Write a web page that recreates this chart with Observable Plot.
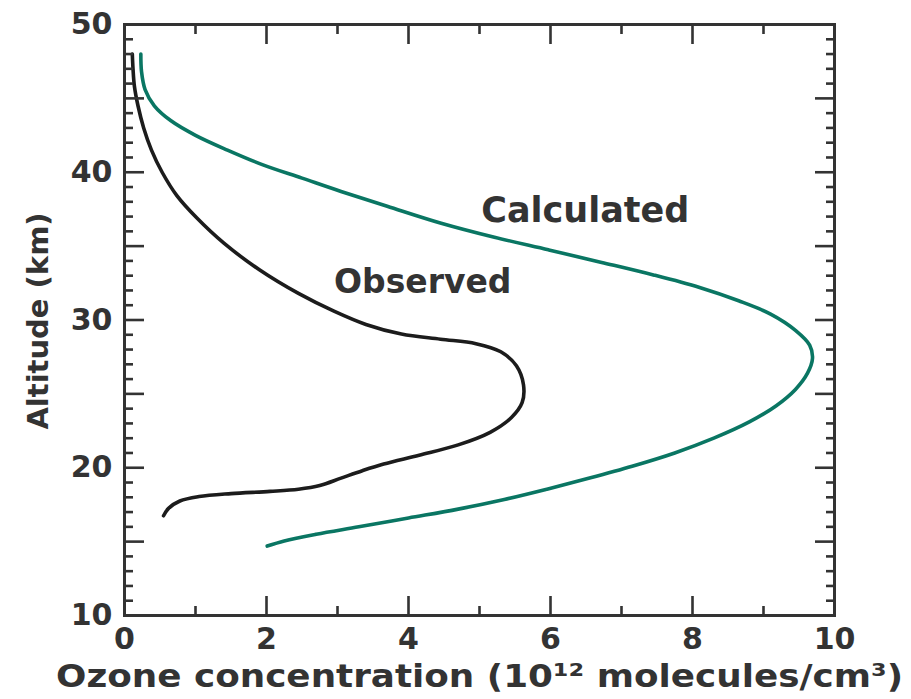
<!DOCTYPE html>
<html>
<head>
<meta charset="utf-8">
<script src="https://cdn.jsdelivr.net/npm/d3@7"></script>
<script src="https://cdn.jsdelivr.net/npm/@observablehq/plot@0.6"></script>
<style>
  html, body { margin: 0; padding: 0; background: #fff; }
</style>
</head>
<body>
<div id="chart"></div>
<script>
// Observed ozone profile (concentration in 10^12 molecules/cm3, altitude in km)
const observedConc = [0.11, 0.12, 0.14, 0.19, 0.27, 0.38, 0.53, 0.74, 1.02, 1.40, 1.90, 2.45, 2.95, 3.40, 3.90, 4.45, 4.95, 5.30, 5.52, 5.62, 5.60, 5.45, 5.15, 4.70, 4.15, 3.65, 3.35, 3.05, 2.75, 2.45, 2.05, 1.50, 1.05, 0.78, 0.62, 0.55];
const observedAlt  = [48.0, 47.0, 45.8, 44.5, 43.0, 41.5, 40.0, 38.4, 36.9, 35.2, 33.4, 31.8, 30.6, 29.7, 29.05, 28.7, 28.4, 27.85, 26.9, 25.6, 24.4, 23.4, 22.4, 21.55, 20.85, 20.25, 19.8, 19.3, 18.8, 18.55, 18.4, 18.25, 18.05, 17.75, 17.25, 16.75];

// Calculated ozone profile
const calculatedConc = [0.23, 0.24, 0.29, 0.42, 0.65, 1.00, 1.45, 1.95, 2.50, 3.05, 3.70, 4.46, 5.21, 5.97, 6.72, 7.45, 8.10, 8.65, 9.10, 9.45, 9.65, 9.69, 9.62, 9.45, 9.18, 8.80, 8.30, 7.75, 7.15, 6.55, 5.95, 5.35, 4.70, 4.00, 3.30, 2.70, 2.25, 2.01];
const calculatedAlt  = [48.0, 46.8, 45.6, 44.5, 43.5, 42.5, 41.5, 40.5, 39.6, 38.7, 37.7, 36.55, 35.6, 34.75, 33.9, 33.05, 32.2, 31.3, 30.4, 29.3, 28.3, 27.4, 26.4, 25.3, 24.2, 23.1, 22.0, 21.0, 20.1, 19.3, 18.55, 17.85, 17.2, 16.6, 16.0, 15.5, 15.05, 14.7];

// Tick values and labels
const xTickLabels = [0, 2, 4, 6, 8, 10];
const xMajorTicks = [2, 4, 6, 8];
const xMinorTicks = [1, 3, 5, 7, 9];
const yTickLabels = [10, 20, 30, 40, 50];
const yMajorTicks = [15, 20, 25, 30, 35, 40, 45];
const yMinorTicks = [11, 12, 13, 14, 16, 17, 18, 19, 21, 22, 23, 24, 26, 27, 28, 29, 31, 32, 33, 34, 36, 37, 38, 39, 41, 42, 43, 44, 46, 47, 48, 49];

// Text
const seriesNames = ["Observed", "Calculated"];
const xTitle = "Ozone concentration (10¹² molecules/cm³)";
const yTitle = "Altitude (km)";

const observed = observedConc.map((c, i) => ({conc: c, alt: observedAlt[i]}));
const calculated = calculatedConc.map((c, i) => ({conc: c, alt: calculatedAlt[i]}));

const INK = "#333333";
const GREEN = "#0a7663";
const blank = () => "";

const tickAxes = [];
for (const anchor of ["bottom", "top"]) {
  tickAxes.push(Plot.axisX({anchor, ticks: xMajorTicks, tickSize: -19, tickFormat: blank, label: null, strokeWidth: 2.6, stroke: INK}));
  tickAxes.push(Plot.axisX({anchor, ticks: xMinorTicks, tickSize: -9, tickFormat: blank, label: null, strokeWidth: 2.6, stroke: INK}));
}
for (const anchor of ["left", "right"]) {
  tickAxes.push(Plot.axisY({anchor, ticks: yMajorTicks, tickSize: -20, tickFormat: blank, label: null, strokeWidth: 2.6, stroke: INK}));
  tickAxes.push(Plot.axisY({anchor, ticks: yMinorTicks, tickSize: -9, tickFormat: blank, label: null, strokeWidth: 2.6, stroke: INK}));
}

const chart = Plot.plot({
  width: 911,
  height: 699,
  marginLeft: 124,
  marginRight: 77,
  marginTop: 24,
  marginBottom: 84,
  style: {fontFamily: "DejaVu Sans", fontWeight: "bold", color: INK, background: "#fff"},
  x: {domain: [0, 10]},
  y: {domain: [10, 50]},
  marks: [
    Plot.line(observed, {x: "conc", y: "alt", curve: "catmull-rom", stroke: "#1c1c1c", strokeWidth: 3.6}),
    Plot.line(calculated, {x: "conc", y: "alt", curve: "catmull-rom", stroke: GREEN, strokeWidth: 3.6}),
    ...tickAxes,
    Plot.frame({stroke: INK, strokeWidth: 3}),
    Plot.axisX({anchor: "bottom", ticks: xTickLabels, tickSize: 0, tickPadding: 12, label: null, fontSize: 30, fontWeight: "bold", fill: INK}),
    Plot.axisY({anchor: "left", ticks: yTickLabels, tickSize: 0, tickPadding: 12, label: null, fontSize: 30, fontWeight: "bold", fill: INK}),
    Plot.text([seriesNames[1]], {x: () => 6.49, y: () => 37.4, text: d => d, fontSize: 35, fontWeight: "bold", fill: INK}),
    Plot.text([seriesNames[0]], {x: () => 4.20, y: () => 32.55, text: d => d, fontSize: 33, fontWeight: "bold", fill: INK}),
    Plot.text([xTitle], {frameAnchor: "bottom", lineAnchor: "middle", textAnchor: "middle", dy: 61, text: d => d, fontSize: 32, fontWeight: "bold", fill: INK, className: "xtitle"}),
    Plot.text([yTitle], {frameAnchor: "left", lineAnchor: "middle", textAnchor: "middle", rotate: -90, dx: -86, dy: 1, text: d => d, fontSize: 29, fontWeight: "bold", fill: INK})
  ]
});

document.getElementById("chart").appendChild(chart);
// stretch the x title to match the reference's wide lettering
d3.select(chart).selectAll(".xtitle text").attr("textLength", 847).attr("lengthAdjust", "spacingAndGlyphs");
</script>
</body>
</html>
